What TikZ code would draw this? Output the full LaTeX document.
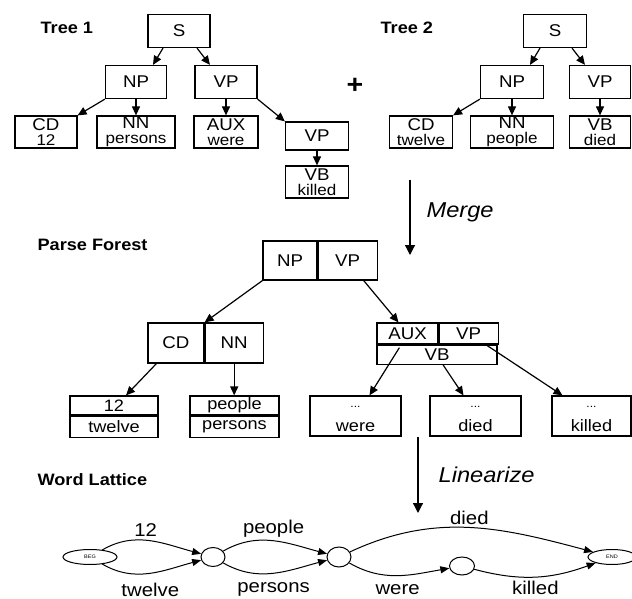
\documentclass[tikz,border=0pt]{standalone}
\usepackage{fontspec}
\setmainfont{Liberation Sans}[FakeStretch=1.1]
\usetikzlibrary{arrows.meta,shapes.geometric}

\begin{document}
\begin{tikzpicture}[x=1pt, y=-1pt, line width=1.2pt,
  >={Triangle[length=9pt,width=8pt]},
  title/.style={anchor=west, inner sep=0pt, font=\fontsize{16.5}{18}\selectfont\bfseries},
  op/.style={inner sep=0pt, font=\fontsize{21.5}{24}\selectfont\itshape},
  cat/.style={draw, inner sep=0pt, minimum height=33pt, font=\fontsize{17}{17}\selectfont},
  leaf/.style={draw, inner sep=0pt, minimum height=32pt, align=center, font=\fontsize{17}{15}\selectfont},
  cell/.style={draw, inner sep=0pt, font=\fontsize{17}{17}\selectfont},
  word/.style={draw, inner sep=0pt, font=\fontsize{16.5}{16}\selectfont},
  tail/.style={word, minimum height=40pt, text height=31pt, text depth=0pt},
  dots/.style={inner sep=0pt, yshift=-13pt, font=\fontsize{11}{11}\selectfont},
  state/.style={draw, ellipse, inner sep=0pt, line width=1pt},
  lattice/.style={->, line width=1pt, >={Triangle[length=9pt,width=7pt]}},
  lbl/.style={inner sep=1pt, font=\fontsize{18.5}{20}\selectfont}]

\useasboundingbox (0,0) rectangle (632,599);

% Tree 1
\node[title] (tree1) at (40,28) {Tree 1};
\node[cat, minimum width=62pt] (t1s) at (179,31) {S};
\node[cat, minimum width=61pt] (t1np) at (136,82) {NP};
\node[cat, minimum width=62pt] (t1vp) at (226,82) {VP};
\node[leaf, minimum width=62pt] (t1cd) at (46,132) {CD\\\fontsize{15.5}{15}\selectfont 12};
\node[leaf, minimum width=78pt] (t1nn) at (136,132) {NN\\\fontsize{15.5}{15}\selectfont persons};
\node[leaf, minimum width=64pt] (t1aux) at (226,132) {AUX\\\fontsize{15.5}{15}\selectfont were};
\node[cat, minimum width=63pt, minimum height=28pt] (t1vp2) at (317,136) {VP};
\node[leaf, minimum width=63pt] (t1vb) at (317,182) {VB\\\fontsize{15.5}{15}\selectfont killed};

\draw[->] ([xshift=-16pt]t1s.south) -- ([xshift=17pt]t1np.north);
\draw[->] ([xshift=18pt]t1s.south) -- ([xshift=-16pt]t1vp.north);
\draw[->] (t1np.south west) -- (t1cd.north east);
\draw[->] (t1np.south) -- (t1nn.north);
\draw[->] (t1vp.south) -- (t1aux.north);
\draw[->] (t1vp.south east) -- (t1vp2.north west);
\draw[->] (t1vp2.south) -- (t1vb.north);

% plus
\node[font=\fontsize{26}{26}\selectfont\bfseries] (plus) at (355,86) {+};

% Tree 2
\node[title] (tree2) at (380,28) {Tree 2};
\node[cat, minimum width=63pt] (t2s) at (555,31) {S};
\node[cat, minimum width=63pt] (t2np) at (512,82) {NP};
\node[cat, minimum width=61pt] (t2vp) at (600,82) {VP};
\node[leaf, minimum width=63pt] (t2cd) at (421,132) {CD\\\fontsize{15.5}{15}\selectfont twelve};
\node[leaf, minimum width=83pt] (t2nn) at (512,132) {NN\\\fontsize{15.5}{15}\selectfont people};
\node[leaf, minimum width=61pt] (t2vb) at (600,132) {VB\\\fontsize{15.5}{15}\selectfont died};

\draw[->] ([xshift=-15pt]t2s.south) -- ([xshift=18pt]t2np.north);
\draw[->] ([xshift=17pt]t2s.south) -- ([xshift=-15pt]t2vp.north);
\draw[->] (t2np.south west) -- (t2cd.north east);
\draw[->] (t2np.south) -- (t2nn.north);
\draw[->] (t2vp.south) -- (t2vb.north);

% Merge
\coordinate (m1) at (410,180);
\coordinate (m2) at (410,255);
\draw[->, >={Triangle[length=10pt,width=10pt]}] (m1) -- (m2)
  node[op, midway, anchor=west, xshift=16pt, yshift=5pt] {Merge};

% Parse forest
\node[title] (forest) at (37,245) {Parse Forest};
\node[cell, minimum width=54pt, minimum height=39pt] (pfnp) at (290,260.5) {NP};
\node[cell, minimum width=59pt, minimum height=39pt, anchor=west] (pfvp) at (pfnp.east) {VP};

\node[cell, minimum width=56pt, minimum height=40pt] (pfcd) at (176,343) {CD};
\node[cell, minimum width=58pt, minimum height=40pt, anchor=west] (pfnn) at (pfcd.east) {NN};

\node[cell, minimum width=61pt, minimum height=21pt] (pfaux) at (407.5,333.5) {AUX};
\node[cell, minimum width=59pt, minimum height=21pt, anchor=west] (pfvp2) at (pfaux.east) {VP};
\node[cell, minimum width=120pt, minimum height=19pt, anchor=north west] (pfvb) at (pfaux.south west) {VB};

\node[word, minimum width=88pt, minimum height=19pt] (pf12) at (114,405.5) {12};
\node[word, minimum width=88pt, minimum height=21pt, anchor=north] (pftw) at (pf12.south) {twelve};
\node[word, minimum width=89pt, minimum height=19pt] (pfpe) at (234.5,405.5) {people};
\node[word, minimum width=89pt, minimum height=21pt, anchor=north] (pfps) at (pfpe.south) {persons};

\node[tail, minimum width=91pt, label={[dots]north:...}] (pfwe) at (355.5,416) {were};
\node[tail, minimum width=91pt, label={[dots]north:...}] (pfdi) at (475.5,416) {died};
\node[tail, minimum width=79pt, label={[dots]north:...}] (pfki) at (591.5,416) {killed};

\draw[->] (pfnp.south west) -- (pfcd.north east);
\draw[->] ([xshift=16pt]pfvp.south) -- ([xshift=-9pt]pfaux.north);
\draw[->] ([xshift=9pt]pfcd.south west) -- ([xshift=12pt]pf12.north);
\draw[->] (pfnn.south) -- (pfnn.south |- pfpe.north);
\draw[->] ([xshift=23pt,yshift=-3pt]pfvb.north west) -- ([xshift=14pt]pfwe.north);
\draw[->] ([xshift=6pt]pfvb.south) -- ([xshift=-12pt]pfdi.north);
\draw[->] ([xshift=17pt]pfvp2.south) -- ([xshift=-29pt]pfki.north);

% Linearize
\coordinate (l1) at (418,437);
\coordinate (l2) at (418,513);
\draw[->, >={Triangle[length=10pt,width=10pt]}] (l1) -- (l2)
  node[op, midway, anchor=west, xshift=20pt] {Linearize};

% Word lattice
\node[title] (lattice) at (37,480) {Word Lattice};
\node[state, minimum width=54pt, minimum height=15pt, font=\fontsize{5}{5}\selectfont] (beg) at (90,557) {BEG};
\node[state, minimum width=24pt, minimum height=19pt] (n1) at (213,557) {};
\node[state, minimum width=24pt, minimum height=20pt] (n2) at (339,557) {};
\node[state, minimum width=25pt, minimum height=18pt] (n3) at (462,566) {};
\node[state, minimum width=48pt, minimum height=15pt, font=\fontsize{5}{5}\selectfont] (fin) at (612,557) {END};

\draw[lattice] (beg) to[out=30, in=165] node[lbl, above=2pt, pos=0.45] {12} (n1);
\draw[lattice] (beg) to[out=-30, in=195] node[lbl, below=8pt] {twelve} (n1);
\draw[lattice] (n1) to[out=30, in=165] node[lbl, above=2pt] {people} (n2);
\draw[lattice] (n1) to[out=-30, in=195] node[lbl, below=8pt] {persons} (n2);
\draw[lattice] (n2) to[out=25, in=165] node[lbl, above=2pt] {died} (fin);
\draw[lattice] (n2) to[out=-30, in=190] node[lbl, below=8pt] {were} (n3);
\draw[lattice] (n3) to[out=-15, in=200] node[lbl, below=3pt] {killed} (fin);

\end{tikzpicture}
\end{document}
